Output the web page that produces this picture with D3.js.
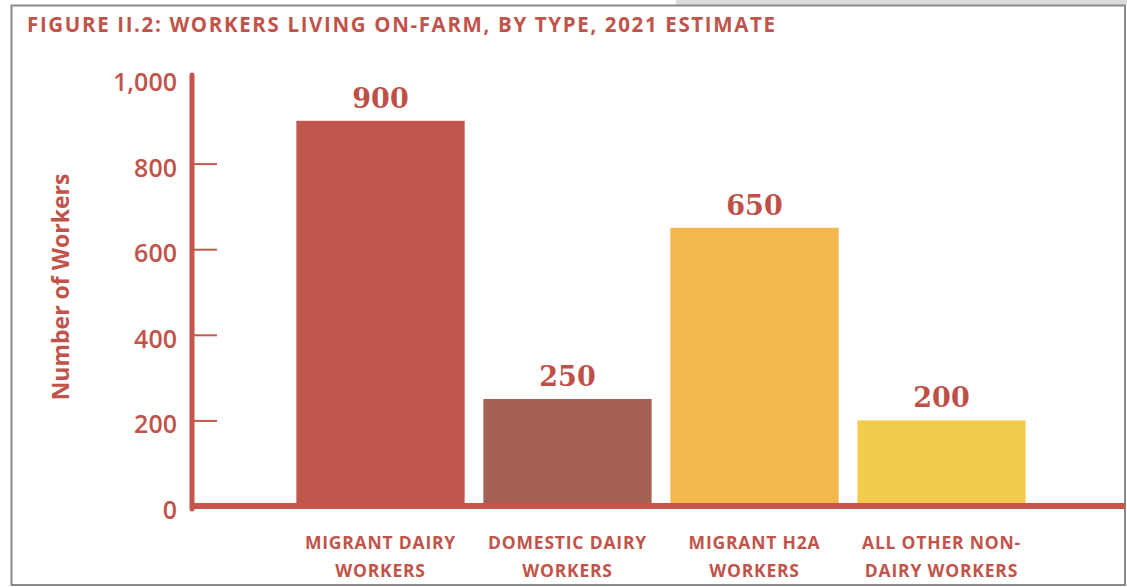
<!DOCTYPE html>
<html lang="en">
<head>
  <meta charset="UTF-8">
  <script src="https://cdn.jsdelivr.net/npm/d3@7/dist/d3.min.js"></script>
  <title>Workers living on-farm</title>
  <style>
    body { margin: 0; background: #fff; }
    svg { display: block; }
    .sans { font-family: "Open Sans", Lato, sans-serif; font-weight: 700; fill: #c0544b; }
    .value { font-family: "DejaVu Serif", serif; font-weight: 700; fill: #bf5048; }
  </style>
</head>
<body>
<div id="chart"></div>
<script>
  // data
  var categories = ["MIGRANT DAIRY|WORKERS", "DOMESTIC DAIRY|WORKERS", "MIGRANT H2A|WORKERS", "ALL OTHER NON-|DAIRY WORKERS"];
  var values = [900, 250, 650, 200];
  var barColors = ["#c1564c", "#a56254", "#f2b74d", "#f3cb4f"];
  var yTicks = [0, 200, 400, 600, 800, 1000];

  var W = 1127, H = 587;
  var red = "#c5564c";

  var svg = d3.select("#chart").append("svg")
    .attr("width", W)
    .attr("height", H);

  // page background bits + frame
  svg.append("rect").attr("x", 676).attr("y", 0).attr("width", W - 676).attr("height", 5).attr("fill", "#dcdcdc");
  svg.append("rect")
    .attr("x", 11.5).attr("y", 5.5)
    .attr("width", 1125 - 11.5).attr("height", 585 - 5.5)
    .attr("fill", "#fff")
    .attr("stroke", "#8a8a8a")
    .attr("stroke-width", 2);

  // title
  svg.append("text")
    .attr("class", "sans")
    .attr("x", 27).attr("y", 32)
    .style("font-size", "20.5px")
    .attr("textLength", 748)
    .attr("lengthAdjust", "spacing")
    .text("FIGURE II.2: WORKERS LIVING ON-FARM, BY TYPE, 2021 ESTIMATE");

  var x = d3.scaleBand()
    .domain(categories)
    .range([287, 1035])
    .paddingInner(0.1)
    .paddingOuter(0.05);

  var y = d3.scaleLinear()
    .domain([0, 1000])
    .range([506, 78]);

  // bars
  svg.selectAll(".bar")
    .data(values)
    .enter()
    .append("rect")
    .attr("class", "bar")
    .attr("x", function(d, i) { return x(categories[i]); })
    .attr("width", x.bandwidth())
    .attr("y", function(d) { return y(d); })
    .attr("height", function(d) { return y(0) - y(d); })
    .attr("fill", function(d, i) { return barColors[i]; });

  // value labels
  svg.selectAll(".value")
    .data(values)
    .enter()
    .append("text")
    .attr("class", "value")
    .attr("x", function(d, i) { return x(categories[i]) + x.bandwidth() / 2; })
    .attr("y", function(d) { return y(d) - 13; })
    .attr("text-anchor", "middle")
    .style("font-size", "27px")
    .text(function(d) { return d; });

  // y axis
  var yAxis = svg.append("g")
    .attr("transform", "translate(192,0)")
    .call(d3.axisRight(y).tickValues(yTicks).tickSize(25).tickFormat(""));
  yAxis.select(".domain").remove();
  yAxis.selectAll("line").attr("stroke", red).attr("stroke-width", 2);
  yAxis.selectAll(".tick").filter(function(d) { return d === 0 || d === 1000; }).remove();

  svg.append("line")
    .attr("x1", 192).attr("x2", 192)
    .attr("y1", 75).attr("y2", 509)
    .attr("stroke", red).attr("stroke-width", 5)
    .attr("stroke-linecap", "round");

  // baseline
  svg.append("line")
    .attr("x1", 190).attr("x2", 1125)
    .attr("y1", y(0)).attr("y2", y(0))
    .attr("stroke", red).attr("stroke-width", 6);

  // tick labels
  svg.selectAll(".ylab")
    .data(yTicks)
    .enter()
    .append("text")
    .attr("class", "sans ylab")
    .attr("x", 177)
    .attr("y", function(d) { return y(d) + 13; })
    .attr("text-anchor", "end")
    .style("font-size", "25px")
    .style("font-weight", 600)
    .text(d3.format(","));

  // axis title
  svg.append("text")
    .attr("class", "sans")
    .attr("transform", "translate(69,287) rotate(-90)")
    .attr("text-anchor", "middle")
    .style("font-size", "23px")
    .text("Number of Workers");

  // category labels
  var cat = svg.selectAll(".cat")
    .data(categories)
    .enter()
    .append("text")
    .attr("class", "sans cat")
    .attr("text-anchor", "middle")
    .style("font-size", "17.5px")
    .style("letter-spacing", "0.8px");

  cat.selectAll("tspan")
    .data(function(d) { return d.split("|").map(function(s) { return { s: s, c: d }; }); })
    .enter()
    .append("tspan")
    .attr("x", function(t) { return x(t.c) + x.bandwidth() / 2; })
    .attr("y", function(t, j) { return 549 + j * 28; })
    .text(function(t) { return t.s; });
</script>
</body>
</html>
